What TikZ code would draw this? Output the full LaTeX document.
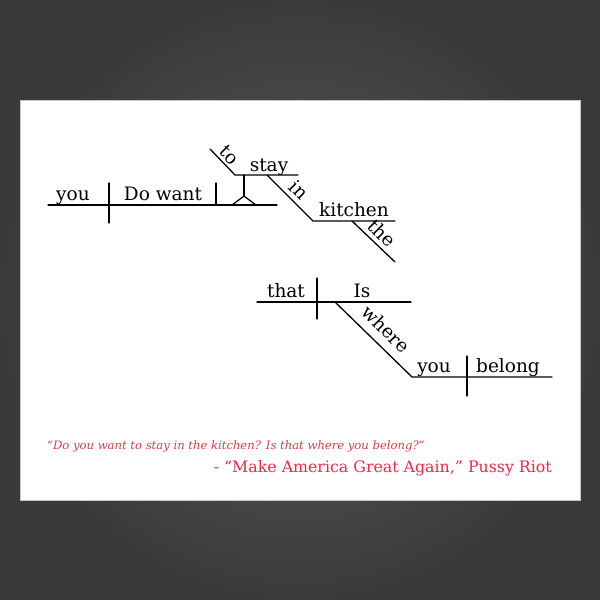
\documentclass[tikz,border=0pt]{standalone}
\usepackage{fontspec}
\setmainfont{DejaVu Serif}
\usepackage{tikz}
\definecolor{bgdark}{HTML}{3A3A3A}
\definecolor{bglight}{HTML}{5E5E5E}
\definecolor{quotedim}{HTML}{D8404A}
\definecolor{quotered}{HTML}{F0284A}
\tikzstyle{word} = [font={\fontsize{18.5}{18.5}\selectfont}, inner sep=0pt, anchor=base]
\tikzstyle{slant} = [word, rotate=-45, anchor=center]
\tikzstyle{rule} = [line width=1.3pt, line cap=round]
\tikzstyle{quote} = [inner sep=0pt, font={\fontsize{11.6}{12}\selectfont\itshape}, color=quotedim, anchor=base west]
\tikzstyle{credit} = [inner sep=0pt, font={\fontsize{15.8}{16}\selectfont}, color=quotered, anchor=base east]

\begin{document}
\begin{tikzpicture}[x=1pt,y=-1pt]
  \useasboundingbox (0,0) rectangle (600,600);
  \shade[inner color=bglight, outer color=bgdark] (0,0) rectangle (600,600);
  \draw[draw=gray!45, fill=white] (20,100) rectangle (580,500);
  \coordinate(b0) at (48,205);
  \coordinate(b1) at (277,205);
  \coordinate(d0) at (109,183);
  \coordinate(d1) at (109,223);
  \coordinate(v0) at (216,183);
  \coordinate(v1) at (216,205);
  \coordinate(p0) at (244,175);
  \coordinate(p1) at (244,196);
  \coordinate(p2) at (232,205);
  \coordinate(p3) at (256,205);
  \coordinate(t0) at (210,149);
  \coordinate(i0) at (235,175);
  \coordinate(i1) at (298,175);
  \coordinate(n0) at (267,175);
  \coordinate(k0) at (313,221);
  \coordinate(k1) at (395,221);
  \coordinate(h0) at (352,221);
  \coordinate(h1) at (395,262);
  \coordinate(c0) at (257,302);
  \coordinate(c1) at (411,302);
  \coordinate(e0) at (317,278);
  \coordinate(e1) at (317,319);
  \coordinate(w0) at (335,302);
  \coordinate(y0) at (412,377);
  \coordinate(y1) at (552,377);
  \coordinate(f0) at (467,356);
  \coordinate(f1) at (467,396);
  \node[word](you) at (73,200){you};
  \node[word](dowant) at (163,200){Do want};
  \node[word](stay) at (269,171){stay};
  \node[word](kitchen) at (354,216){kitchen};
  \node[slant](to) at (229,155){to};
  \node[slant](in) at (299,190){in};
  \node[slant](the) at (382,233){the};
  \node[word](that) at (286,297){that};
  \node[word](is) at (362,297){Is};
  \node[slant](where) at (386,329){where};
  \node[word](you2) at (434,372){you};
  \node[word](belong) at (508,372){belong};
  \draw[rule](b0)--(b1);
  \draw[rule](d0)--(d1);
  \draw[rule](v0)--(v1);
  \draw[rule](p0)--(p1);
  \draw[rule](p2)--(p1)--(p3);
  \draw[rule](t0)--(i0)--(i1);
  \draw[rule](n0)--(k0)--(k1);
  \draw[rule](h0)--(h1);
  \draw[rule](c0)--(c1);
  \draw[rule](e0)--(e1);
  \draw[rule](w0)--(y0)--(y1);
  \draw[rule](f0)--(f1);
  \node[quote](line) at (47,449){“Do you want to stay in the kitchen? Is that where you belong?”};
  \node[credit](source) at (552,472){- “Make America Great Again,” Pussy Riot};
\end{tikzpicture}
\end{document}
